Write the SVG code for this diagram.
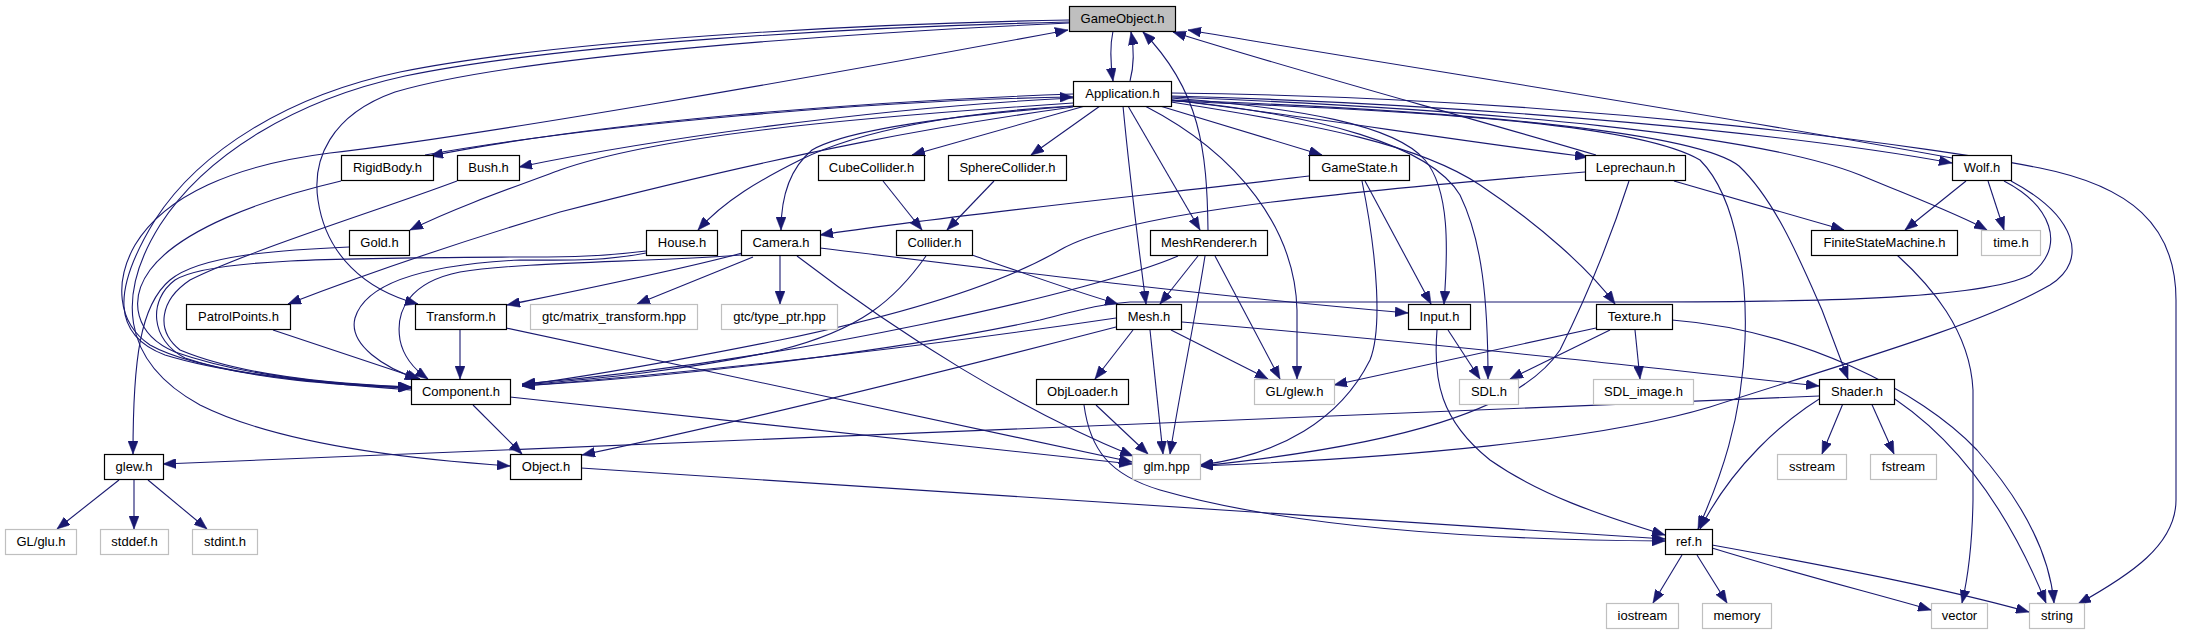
<svg xmlns="http://www.w3.org/2000/svg" width="2185" height="635" viewBox="0 0 2185 635">
<style>
.n rect{fill:#fff;stroke:#000;stroke-width:1.2}
.s rect{fill:#fff;stroke:#bfbfbf;stroke-width:1.2}
.root rect{fill:#bfbfbf;stroke:#000;stroke-width:1.2}
text{font-family:"Liberation Sans",Arial,sans-serif;font-size:13px;text-anchor:middle;fill:#000}
#edges path{fill:none;stroke:#191970;stroke-width:1.1;marker-end:url(#a)}
</style>
<defs>
<marker id="a" markerWidth="13" markerHeight="10" refX="13" refY="5" orient="auto" markerUnits="userSpaceOnUse"><path d="M0,0 L13,5 L0,10 z" fill="#191970" stroke="#191970" stroke-width="0.5"/></marker>
</defs>
<rect width="2185" height="635" fill="#fff"/>
<g id="edges">
<path d="M1113,31 C1110,45 1110,60 1113,81"/>
<path d="M1130,81 C1134,66 1134,48 1131,32"/>
<path d="M1069,20 C850,24 560,40 400,72 C290,95 200,150 155,220 C112,290 112,335 165,355 C230,375 330,384 411,388"/>
<path d="M1069,22 C850,27 560,44 405,76 C295,100 205,155 160,225 C118,292 118,360 200,405 C270,440 390,458 510,466"/>
<path d="M1069,23 C850,33 520,55 395,92 C330,115 312,160 318,200 C326,255 365,290 418,304"/>
<path d="M411,390 C320,383 200,373 150,345 C116,322 115,280 135,245 C165,195 235,165 330,153 C470,137 800,80 1068,30"/>
<path d="M1208,230 C1207,150 1200,90 1143,32"/>
<path d="M1596,155 C1450,112 1300,72 1173,32"/>
<path d="M1952,158 C1700,112 1400,66 1188,30"/>
<path d="M1073,94 C850,102 600,122 430,156"/>
<path d="M425,155 C600,124 880,100 1073,97"/>
<path d="M1073,98 C870,108 650,140 519,167"/>
<path d="M1073,103 C850,118 660,135 560,170 C500,192 450,210 410,230"/>
<path d="M1073,107 C950,124 800,150 560,212 C450,245 350,280 288,304"/>
<path d="M1073,106 C960,112 860,130 800,160 C760,180 725,200 698,230"/>
<path d="M1075,106 C960,115 850,128 812,150 C788,170 781,200 781,230"/>
<path d="M1085,106 L912,155"/>
<path d="M1100,106 L1031,155"/>
<path d="M1123,106 C1130,180 1139,250 1146,304"/>
<path d="M1128,106 L1200,230"/>
<path d="M1145,106 C1240,155 1295,230 1297,310 L1297,379"/>
<path d="M1160,106 L1322,155"/>
<path d="M1171,98 C1300,108 1395,125 1425,160 C1450,190 1448,250 1444,304"/>
<path d="M1171,100 C1320,115 1430,145 1460,195 C1482,240 1488,300 1488,379"/>
<path d="M1171,102 C1320,125 1420,145 1480,185 C1540,225 1590,270 1615,304"/>
<path d="M1171,100 C1300,115 1450,140 1588,157"/>
<path d="M1171,96 C1500,105 1800,135 1952,163"/>
<path d="M1171,97 C1500,110 1760,135 1860,175 C1920,200 1960,215 1987,230"/>
<path d="M1171,93 C1600,98 1950,150 2040,168 C2130,186 2176,225 2176,300 L2176,500 C2176,545 2130,575 2078,604"/>
<path d="M1171,101 C1450,112 1640,125 1700,160 C1740,200 1747,290 1745,340 C1742,420 1720,480 1698,529"/>
<path d="M1171,100 C1500,112 1700,135 1739,166 C1775,200 1800,260 1822,310 L1848,379"/>
<path d="M1309,176 C1150,195 950,215 820,235"/>
<path d="M1365,181 L1431,304"/>
<path d="M1362,181 C1378,260 1382,330 1370,360 C1340,420 1280,455 1200,465"/>
<path d="M1674,181 L1844,230"/>
<path d="M1629,181 C1610,240 1585,300 1560,350 C1520,410 1400,445 1200,466"/>
<path d="M1585,172 C1300,195 1120,215 1060,250 C1000,285 900,315 780,340 C680,360 600,375 522,385"/>
<path d="M1966,181 L1905,230"/>
<path d="M1988,181 L2004,230"/>
<path d="M2004,181 C2050,205 2068,245 2030,275 C1980,300 1800,302 1640,302 L1130,302 C1100,304 1080,310 1040,320 C900,350 700,375 522,386"/>
<path d="M2011,181 C2075,215 2090,260 2050,285 C1980,325 1850,362 1710,407 C1600,440 1400,458 1200,466"/>
<path d="M1897,255 C1930,285 1970,330 1973,390 L1973,500 C1972,560 1965,590 1962,603"/>
<path d="M1596,328 L1334,385"/>
<path d="M1610,330 L1510,379"/>
<path d="M1635,330 L1640,379"/>
<path d="M1672,320 C1800,330 1920,390 1977,450 C2030,510 2050,560 2054,603"/>
<path d="M1198,256 L1160,304"/>
<path d="M1205,256 C1195,320 1180,390 1170,454"/>
<path d="M1215,256 L1280,379"/>
<path d="M1178,256 C1100,290 800,360 522,384"/>
<path d="M1133,330 L1095,379"/>
<path d="M1150,330 L1163,454"/>
<path d="M1171,330 L1268,379"/>
<path d="M1182,322 C1400,340 1600,362 1819,386"/>
<path d="M1116,327 C950,370 750,420 582,455"/>
<path d="M1116,318 C900,350 700,372 522,386"/>
<path d="M972,255 C1020,272 1070,290 1118,304"/>
<path d="M926,256 C895,300 860,330 780,350 C680,372 580,380 522,385"/>
<path d="M883,181 L922,230"/>
<path d="M994,181 L947,230"/>
<path d="M820,248 C1000,270 1200,295 1408,313"/>
<path d="M797,256 C900,335 1020,410 1133,456"/>
<path d="M753,257 L637,304"/>
<path d="M780,256 L780,304"/>
<path d="M742,253 C680,270 580,290 507,305"/>
<path d="M741,255 C650,262 520,262 460,272 C410,282 395,310 400,340 C404,360 418,372 428,379"/>
<path d="M646,253 C600,262 560,260 520,260 C420,265 365,285 355,318 C348,345 385,368 418,379"/>
<path d="M646,251 C600,257 560,257 520,257 C350,258 210,258 175,280 C148,300 150,340 185,358 C250,380 340,385 411,388"/>
<path d="M341,181 C260,200 180,230 150,270 C128,300 135,335 175,352 C240,375 330,385 411,387"/>
<path d="M457,181 C380,210 250,250 190,280 C160,300 155,330 180,350 C240,375 330,384 411,387"/>
<path d="M349,247 C280,250 200,255 170,280 C140,305 133,360 133,454"/>
<path d="M273,330 L420,379"/>
<path d="M460,330 L460,379"/>
<path d="M506,328 L1132,462"/>
<path d="M473,405 L522,454"/>
<path d="M510,397 L1132,464"/>
<path d="M581,468 L1665,539"/>
<path d="M1096,405 L1148,454"/>
<path d="M1084,405 C1090,450 1110,475 1160,490 C1300,530 1500,540 1665,541"/>
<path d="M1448,330 L1480,379"/>
<path d="M1437,330 C1433,380 1440,420 1490,460 C1540,495 1600,515 1665,535"/>
<path d="M1819,396 C1400,418 800,440 163,464"/>
<path d="M1836,389 C1780,420 1730,470 1700,529"/>
<path d="M1849,389 L1822,454"/>
<path d="M1865,389 L1894,454"/>
<path d="M1879,389 C1940,425 2000,490 2046,603"/>
<path d="M119,480 L57,529"/>
<path d="M134,480 L134,529"/>
<path d="M148,480 L207,529"/>
<path d="M1682,555 L1653,603"/>
<path d="M1697,555 L1727,603"/>
<path d="M1712,548 C1800,575 1880,595 1931,610"/>
<path d="M1712,545 C1850,570 1950,590 2029,612"/>
</g>
<g id="node-GameObject" class="root"><rect x="1069.5" y="6.5" width="106" height="25"/><text x="1122.5" y="23">GameObject.h</text></g>
<g id="node-Application" class="n"><rect x="1073.5" y="81.5" width="98" height="25"/><text x="1122.5" y="98">Application.h</text></g>
<g id="node-RigidBody" class="n"><rect x="341.5" y="155.5" width="92" height="25"/><text x="387.5" y="172">RigidBody.h</text></g>
<g id="node-Bush" class="n"><rect x="457.5" y="155.5" width="62" height="25"/><text x="488.5" y="172">Bush.h</text></g>
<g id="node-CubeCollider" class="n"><rect x="818.5" y="155.5" width="106" height="25"/><text x="871.5" y="172">CubeCollider.h</text></g>
<g id="node-SphereCollider" class="n"><rect x="948.5" y="155.5" width="118" height="25"/><text x="1007.5" y="172">SphereCollider.h</text></g>
<g id="node-GameState" class="n"><rect x="1309.5" y="155.5" width="100" height="25"/><text x="1359.5" y="172">GameState.h</text></g>
<g id="node-Leprechaun" class="n"><rect x="1585.5" y="155.5" width="100" height="25"/><text x="1635.5" y="172">Leprechaun.h</text></g>
<g id="node-Wolf" class="n"><rect x="1952.5" y="155.5" width="59" height="25"/><text x="1982" y="172">Wolf.h</text></g>
<g id="node-Gold" class="n"><rect x="349.5" y="230.5" width="60" height="25"/><text x="379.5" y="247">Gold.h</text></g>
<g id="node-House" class="n"><rect x="646.5" y="230.5" width="71" height="25"/><text x="682" y="247">House.h</text></g>
<g id="node-Camera" class="n"><rect x="741.5" y="230.5" width="79" height="25"/><text x="781" y="247">Camera.h</text></g>
<g id="node-Collider" class="n"><rect x="896.5" y="230.5" width="76" height="25"/><text x="934.5" y="247">Collider.h</text></g>
<g id="node-MeshRenderer" class="n"><rect x="1150.5" y="230.5" width="117" height="25"/><text x="1209" y="247">MeshRenderer.h</text></g>
<g id="node-FiniteStateMachine" class="n"><rect x="1811.5" y="230.5" width="146" height="25"/><text x="1884.5" y="247">FiniteStateMachine.h</text></g>
<g id="node-time" class="s"><rect x="1981.5" y="230.5" width="59" height="25"/><text x="2011" y="247">time.h</text></g>
<g id="node-PatrolPoints" class="n"><rect x="186.5" y="304.5" width="104" height="25"/><text x="238.5" y="321">PatrolPoints.h</text></g>
<g id="node-Transform" class="n"><rect x="415.5" y="304.5" width="91" height="25"/><text x="461" y="321">Transform.h</text></g>
<g id="node-gtc-matrix" class="s"><rect x="530.5" y="304.5" width="167" height="25"/><text x="614" y="321">gtc/matrix_transform.hpp</text></g>
<g id="node-gtc-typeptr" class="s"><rect x="721.5" y="304.5" width="116" height="25"/><text x="779.5" y="321">gtc/type_ptr.hpp</text></g>
<g id="node-Mesh" class="n"><rect x="1116.5" y="304.5" width="65" height="25"/><text x="1149" y="321">Mesh.h</text></g>
<g id="node-Input" class="n"><rect x="1408.5" y="304.5" width="62" height="25"/><text x="1439.5" y="321">Input.h</text></g>
<g id="node-Texture" class="n"><rect x="1596.5" y="304.5" width="76" height="25"/><text x="1634.5" y="321">Texture.h</text></g>
<g id="node-Component" class="n"><rect x="411.5" y="379.5" width="99" height="25"/><text x="461" y="396">Component.h</text></g>
<g id="node-ObjLoader" class="n"><rect x="1036.5" y="379.5" width="92" height="25"/><text x="1082.5" y="396">ObjLoader.h</text></g>
<g id="node-GL-glew" class="s"><rect x="1254.5" y="379.5" width="80" height="25"/><text x="1294.5" y="396">GL/glew.h</text></g>
<g id="node-SDL" class="s"><rect x="1459.5" y="379.5" width="59" height="25"/><text x="1489" y="396">SDL.h</text></g>
<g id="node-SDL-image" class="s"><rect x="1593.5" y="379.5" width="100" height="25"/><text x="1643.5" y="396">SDL_image.h</text></g>
<g id="node-Shader" class="n"><rect x="1819.5" y="379.5" width="75" height="25"/><text x="1857" y="396">Shader.h</text></g>
<g id="node-glew" class="n"><rect x="104.5" y="454.5" width="59" height="25"/><text x="134" y="471">glew.h</text></g>
<g id="node-Object" class="n"><rect x="510.5" y="454.5" width="71" height="25"/><text x="546" y="471">Object.h</text></g>
<g id="node-glm" class="s"><rect x="1132.5" y="454.5" width="68" height="25"/><text x="1166.5" y="471">glm.hpp</text></g>
<g id="node-sstream" class="s"><rect x="1777.5" y="454.5" width="69" height="25"/><text x="1812" y="471">sstream</text></g>
<g id="node-fstream" class="s"><rect x="1870.5" y="454.5" width="66" height="25"/><text x="1903.5" y="471">fstream</text></g>
<g id="node-GL-glu" class="s"><rect x="5.5" y="529.5" width="71" height="25"/><text x="41" y="546">GL/glu.h</text></g>
<g id="node-stddef" class="s"><rect x="100.5" y="529.5" width="68" height="25"/><text x="134.5" y="546">stddef.h</text></g>
<g id="node-stdint" class="s"><rect x="192.5" y="529.5" width="65" height="25"/><text x="225" y="546">stdint.h</text></g>
<g id="node-ref" class="n"><rect x="1665.5" y="529.5" width="47" height="25"/><text x="1689" y="546">ref.h</text></g>
<g id="node-iostream" class="s"><rect x="1606.5" y="603.5" width="72" height="25"/><text x="1642.5" y="620">iostream</text></g>
<g id="node-memory" class="s"><rect x="1702.5" y="603.5" width="69" height="25"/><text x="1737" y="620">memory</text></g>
<g id="node-vector" class="s"><rect x="1931.5" y="603.5" width="56" height="25"/><text x="1959.5" y="620">vector</text></g>
<g id="node-string" class="s"><rect x="2029.5" y="603.5" width="55" height="25"/><text x="2057" y="620">string</text></g>
</svg>
